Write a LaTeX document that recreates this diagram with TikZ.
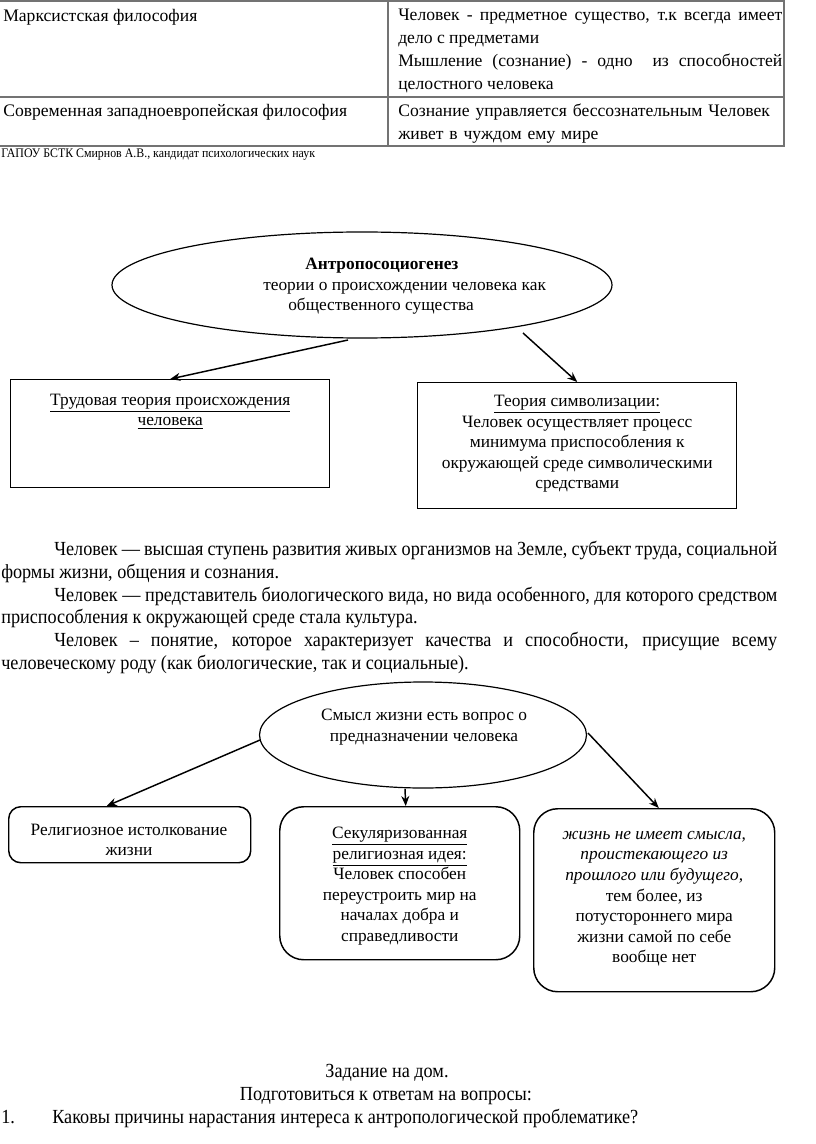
\documentclass[tikz,border=0pt]{standalone}
\usepackage{fontspec}
\setmainfont{Liberation Serif}
\newfontfamily\narrowfont[FakeStretch=0.91]{Liberation Serif}
\usetikzlibrary{shapes.geometric,positioning,arrows.meta}

\begin{document}
\begin{tikzpicture}[x=0.75pt,y=-0.75pt,
  grid/.style={draw=black!55, line width=0.8pt},
  frame/.style={draw, line width=1.1pt, inner sep=0pt},
  roundframe/.style={frame, rounded corners=18pt},
  oval/.style={draw, ellipse, line width=0.9pt, inner sep=0pt},
  link/.style={-{Stealth[length=7.5pt,width=6pt]}, line width=1.1pt},
  cell/.style={inner sep=0pt, font=\fontsize{13.2}{17.25}\selectfont},
  boxtext/.style={inner sep=0pt, align=center, font=\fontsize{13}{15.4}\selectfont},
  prose/.style={inner sep=0pt, font=\narrowfont\fontsize{15}{17.1}\selectfont}]
\useasboundingbox (0,0) rectangle (816,1144);

% table
\draw[grid] (0,1) -- (784,1) -- (784,146) -- (0,146);
\draw[grid] (0,97) -- (784,97);
\draw[grid] (388,1) -- (388,146);

\node[cell, anchor=north west] (marx) at (3,9) {Марксистская философия};
\node[cell, anchor=north west, text width=288pt, align=justify] (marxtext) at (398,9)
  {Человек - предметное существо, т.к всегда имеет\linebreak дело с предметами\par
   Мышление (сознание) - одно\ \ из способностей\linebreak целостного человека};
\node[cell, anchor=north west] (west) at (3,104) {Современная западноевропейская философия};
\node[cell, anchor=north west, text width=288pt, align=left] (westtext) at (398,104)
  {Сознание управляется бессознательным Человек\\ живет в чуждом ему мире};
\node[anchor=north west, inner sep=0pt, font=\narrowfont\fontsize{9.8}{12}\selectfont] (author) at (1,149)
  {ГАПОУ БСТК Смирнов А.В., кандидат психологических наук};

% anthroposociogenesis
\node[oval, minimum width=375pt, minimum height=79.5pt] (anthro) at (362,285) {};
\node[boxtext, anchor=north west, align=left] (anthrotext) at (263,258)
  {\hspace*{31.5pt}\textbf{Антропосоциогенез}\\
   теории о происхождении человека как\\
   \hspace*{18.75pt}общественного существа};
\coordinate (anthroL) at (348,340);
\coordinate (anthroR) at (523,333);

\node[frame, anchor=north west, minimum width=239.25pt, minimum height=81pt] (labour) at (10,379) {};
\node[boxtext, below=11pt of labour.north] (labourtext)
  {\underline{Трудовая теория происхождения}\\ \underline{человека}};
\node[frame, anchor=north west, minimum width=239.25pt, minimum height=94.5pt] (symbol) at (417,382) {};
\node[boxtext, below=9.75pt of symbol.north] (symboltext)
  {\underline{Теория символизации:}\\ Человек осуществляет процесс\\ минимума приспособления к\\
   окружающей среде символическими\\ средствами};

\draw[link] (anthroL) -- (labour.north);
\draw[link] (anthroR) -- (symbol.north);

% definitions
\node[prose, anchor=north west, text width=582pt, align=justify] (human) at (1,541)
  {\noindent\hspace*{39.75pt}Человек — высшая ступень развития живых организмов на Земле, субъект труда, социальной\linebreak
   формы жизни, общения и сознания.\par
   \noindent\hspace*{39.75pt}Человек — представитель биологического вида, но вида особенного, для которого средством\linebreak
   приспособления к окружающей среде стала культура.\par
   \noindent\hspace*{39.75pt}Человек – понятие, которое характеризует качества и способности, присущие всему\linebreak
   человеческому роду (как биологические, так и социальные).};

% meaning of life
\node[oval, minimum width=245.25pt, minimum height=79.5pt] (meaning) at (423,735) {};
\node[boxtext] (meaningtext) at (424,727) {Смысл жизни есть вопрос о\\ предназначении человека};
\coordinate (meaningL) at (260,740);
\coordinate (meaningB) at (405,789);
\coordinate (meaningR) at (588,733);

\node[frame, rounded corners=9pt, anchor=north west, minimum width=181.5pt, minimum height=42pt] (religion) at (8,806) {};
\node[boxtext] (religiontext) at (129,840) {Религиозное истолкование\\ жизни};
\node[roundframe, anchor=north west, minimum width=180pt, minimum height=114.75pt] (secular) at (279,806) {};
\node[boxtext, below=15.75pt of secular.north] (seculartext)
  {\underline{Секуляризованная}\\ \underline{религиозная идея:}\\ Человек способен\\
   переустроить мир на\\ началах добра и\\ справедливости};
\node[roundframe, anchor=north west, minimum width=180.75pt, minimum height=137.25pt] (nihil) at (533,808) {};
\node[boxtext, below=17.25pt of nihil.north] (nihiltext)
  {\textit{жизнь не имеет смысла,}\\ \textit{проистекающего из}\\ \textit{прошлого или будущего,}\\
   тем более, из\\ потустороннего мира\\ жизни самой по себе\\ вообще нет};

\draw[link] (meaningL) -- ([xshift=-17.25pt]religion.north);
\draw[link] (meaningB) -- ([xshift=4.5pt]secular.north);
\draw[link] (meaningR) -- ([xshift=3.4pt]nihil.north);

% homework
\node[prose] (homework) at (387,1073) {Задание на дом.};
\node[prose] (prepare) at (386,1096) {Подготовиться к ответам на вопросы:};
\node[prose, anchor=base west] (qnum) at (1,1123) {1.};
\node[prose, anchor=base west] (question) at (52,1123)
  {Каковы причины нарастания интереса к антропологической проблематике?};
\end{tikzpicture}
\end{document}
